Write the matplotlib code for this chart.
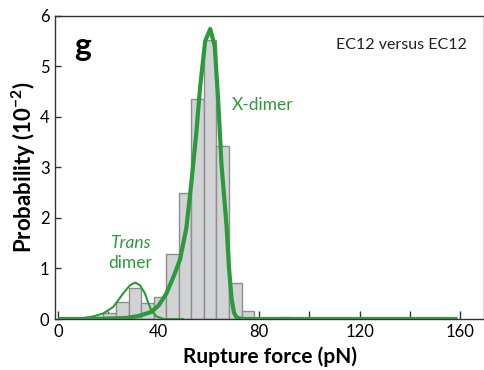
import matplotlib
matplotlib.use('Agg')
import matplotlib.pyplot as plt
from matplotlib.ticker import MultipleLocator

plt.rcParams['font.family'] = ['Lato', 'DejaVu Sans']
plt.rcParams['mathtext.fontset'] = 'custom'
plt.rcParams['mathtext.rm'] = 'Lato'
plt.rcParams['mathtext.bf'] = 'Lato:bold'

# histogram: left bin edges (pN) and probabilities (10^-2)
bin_left = [18, 23, 28, 33, 38, 43, 48, 53, 58, 63, 68, 73, 88]
bin_prob = [0.11, 0.34, 0.61, 0.31, 0.44, 1.28, 2.49, 4.36, 5.52, 3.43, 0.71, 0.16, 0.03]
bin_width = 5

# X-dimer fit
xdim_f = [0, 10, 20, 27, 32, 37, 40, 43, 46, 48.5, 51, 53, 54, 55, 56.5, 58.5,
          60.5, 62.3, 63.7, 65, 66, 67, 68, 69, 70, 71, 73, 80, 120, 159]
xdim_p = [0, 0.0, 0.01, 0.02, 0.06, 0.14, 0.27, 0.5, 0.85, 1.18, 1.8, 2.7, 3.2, 3.7,
          4.6, 5.5, 5.74, 5.4, 4.3, 3.05, 2.45, 1.85, 1.0, 0.4, 0.12, 0.03, 0, 0, 0, 0]

# trans dimer fit
trans_f = [0, 8.6, 13.9, 17.9, 21.9, 25.9, 28.6, 30.6, 32.5, 34.5, 35.9, 37.2, 39.2, 42, 50]
trans_p = [0, 0.01, 0.05, 0.11, 0.24, 0.51, 0.67, 0.72, 0.67, 0.51, 0.31, 0.15, 0.05, 0.0, 0]

green = '#2b9a3b'

fig = plt.figure(figsize=(4.85, 3.7), dpi=100)
ax = fig.add_axes([0.1134, 0.1378, 0.885, 0.8195])

ax.bar(bin_left, bin_prob, width=bin_width, align='edge',
       color='#d1d3d5', edgecolor='#8c8e90', linewidth=1.0, zorder=2)
ax.plot(trans_f, trans_p, color=green, lw=1.5, zorder=3, solid_capstyle='butt')
ax.plot(xdim_f, xdim_p, color=green, lw=3.0, zorder=4, solid_capstyle='butt',
        solid_joinstyle='round')

ax.set_xlim(-1.3, 169.6)
ax.set_ylim(0, 6)
ax.xaxis.set_major_locator(MultipleLocator(40))
ax.xaxis.set_minor_locator(MultipleLocator(20))
ax.yaxis.set_major_locator(MultipleLocator(1))
ax.tick_params(axis='x', which='both', direction='in', length=6, width=1,
               labelsize=12, pad=3.5, color='#333333')
ax.tick_params(axis='y', which='major', direction='in', length=4, width=1,
               labelsize=12, pad=4, color='#333333')
for s in ax.spines.values():
    s.set_color('#333333')
    s.set_linewidth(1.0)

ax.set_xlabel('Rupture force (pN)', fontsize=15, fontweight='bold', labelpad=5)
ax.set_ylabel('Probability (10$^{\\mathbf{-2}}$)', fontsize=16, fontweight='bold', labelpad=1)

ax.text(0.045, 0.9, 'g', transform=ax.transAxes, fontsize=23, fontweight='bold',
        ha='left', va='center')
ax.text(0.96, 0.905, 'EC12 versus EC12', transform=ax.transAxes, fontsize=11.5,
        ha='right', va='center', color='#222222')
ax.text(69, 4.24, 'X-dimer', color=green, fontsize=12.5, ha='left', va='center')
ax.text(28.6, 1.5, 'Trans', color=green, fontsize=12.5, style='italic',
        ha='center', va='center')
ax.text(28.6, 1.1, 'dimer', color=green, fontsize=12.5, ha='center', va='center')

fig.savefig('out.png', dpi=100)
